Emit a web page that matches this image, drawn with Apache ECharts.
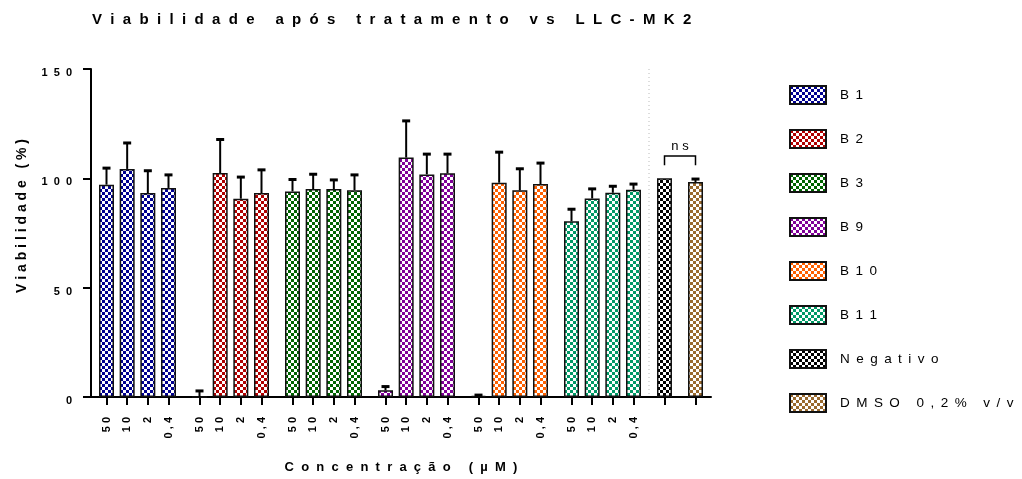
<!DOCTYPE html>
<html><head><meta charset="utf-8">
<script src="https://cdn.jsdelivr.net/npm/echarts@6/dist/echarts.min.js"></script>
<style>html,body{margin:0;padding:0;background:#fff}#c{width:1022px;height:479px}</style>
</head><body><div id="c"></div>
<script>
// ---------- data ----------
const concLabels = ['50', '10', '2', '0,4'];
const groupNames = ['B1', 'B2', 'B3', 'B9', 'B10', 'B11'];
const controlNames = ['Negativo', 'DMSO 0,2% v/v'];
const b1Mean = [97.1, 104.3, 93.3, 95.6];   const b1Sd = [7.8, 12.1, 10.4, 6.2];
const b2Mean = [0, 102.4, 90.7, 93.3];      const b2Sd = [3.0, 15.6, 10.1, 10.8];
const b3Mean = [94.0, 95.1, 95.1, 94.6];    const b3Sd = [5.7, 7.0, 4.4, 7.2];
const b9Mean = [3.1, 109.5, 101.8, 102.3];  const b9Sd = [1.9, 17.0, 9.5, 9.0];
const b10Mean = [0.5, 98.0, 94.5, 97.4];    const b10Sd = [0.6, 14.2, 10.1, 9.8];
const b11Mean = [80.4, 90.8, 93.4, 94.8];   const b11Sd = [5.7, 4.6, 3.2, 2.8];
const controlMean = [100, 98.3];
const controlSd = [0, 1.6];
const nsBracket = [110.2, 106, 114.5]; // bracket top, leg bottom, label level (in %)
const yMin = 0, yMax = 150, yStep = 50;

const groupColors = ['#000090', '#b00000', '#006400', '#800098', '#ff6000', '#009966'];
const controlColors = ['#000000', '#9a6a2e'];

// ---------- helpers ----------
function spaced(s, sep) {
  return s.split(' ').map(w => Array.from(w).join(sep)).join(sep + ' ' + sep);
}
function pattern(color) {
  const c = document.createElement('canvas');
  c.width = 6; c.height = 6;
  const g = c.getContext('2d');
  g.fillStyle = '#ffffff'; g.fillRect(0, 0, 6, 6);
  g.fillStyle = color; g.fillRect(0, 0, 3, 3); g.fillRect(3, 3, 3, 3);
  return { image: c, repeat: 'repeat' };
}
const FONT = 'Liberation Sans, Arial, sans-serif';

// ---------- layout of categories (slots) ----------
const groupMeans = [b1Mean, b2Mean, b3Mean, b9Mean, b10Mean, b11Mean];
const groupSds = [b1Sd, b2Sd, b3Sd, b9Sd, b10Sd, b11Sd];
const nSlots = 60;
const slotIds = [], slotLabels = [];
for (let i = 0; i < nSlots; i++) { slotIds.push('s' + i); slotLabels.push(''); }
const tickSet = new Set();
const groupSlots = groupNames.map((g, gi) => concLabels.map((c, ci) => 1 + 9 * gi + 2 * ci));
groupSlots.forEach(arr => arr.forEach((s, ci) => { slotLabels[s] = concLabels[ci]; tickSet.add(s); }));
const controlSlots = [55, 58];
controlSlots.forEach(s => tickSet.add(s));
const lastGroupSlot = groupSlots[groupSlots.length - 1][concLabels.length - 1];

const series = [];
const errData = [];
groupNames.forEach((name, gi) => {
  const d = new Array(nSlots).fill('-');
  groupSlots[gi].forEach((s, ci) => { d[s] = groupMeans[gi][ci]; errData.push([s, groupMeans[gi][ci], groupSds[gi][ci]]); });
  series.push({ name, type: 'bar', data: d, barWidth: 15, barGap: '-100%',
    itemStyle: { color: pattern(groupColors[gi]), borderColor: '#111', borderWidth: 1.5 } });
});
controlNames.forEach((name, k) => {
  const d = new Array(nSlots).fill('-');
  d[controlSlots[k]] = controlMean[k];
  errData.push([controlSlots[k], controlMean[k], controlSd[k]]);
  series.push({ name, type: 'bar', data: d, barWidth: 15, barGap: '-100%',
    itemStyle: { color: pattern(controlColors[k]), borderColor: '#111', borderWidth: 1.5 } });
});
series.push({
  type: 'custom', name: 'err', z: 5, data: errData,
  renderItem(params, api) {
    const x = api.value(0), m = api.value(1), s = api.value(2);
    if (!(s > 0)) return null;
    const p0 = api.coord([x, m]), p1 = api.coord([x, m + s]);
    return { type: 'group', children: [
      { type: 'line', shape: { x1: p0[0], y1: p0[1], x2: p1[0], y2: p1[1] }, style: { stroke: '#000', lineWidth: 2 } },
      { type: 'rect', shape: { x: p1[0] - 4, y: p1[1] - 1, width: 8, height: 3 }, style: { fill: '#000' } }
    ] };
  }
});
// dotted divider between the compounds and the controls
series.push({
  type: 'custom', name: 'divider', z: 1,
  data: [[lastGroupSlot, controlSlots[0]]],
  renderItem(params, api) {
    const a = api.coord([api.value(0), yMax]), b = api.coord([api.value(1), 0]);
    const x = (a[0] + b[0]) / 2;
    return { type: 'line', shape: { x1: x, y1: a[1], x2: x, y2: b[1] },
      style: { stroke: '#bbbbbb', lineWidth: 1, lineDash: [1, 3] } };
  }
});
series.push({
  type: 'custom', name: 'ns', z: 5,
  data: [[controlSlots[0], controlSlots[1], nsBracket[0], nsBracket[1], nsBracket[2]]],
  renderItem(params, api) {
    const a = api.value(0), b = api.value(1), top = api.value(2), leg = api.value(3), lab = api.value(4);
    const pa = api.coord([a, top]), pb = api.coord([b, top]);
    const pa2 = api.coord([a, leg]), pb2 = api.coord([b, leg]);
    const pl = api.coord([a, lab]);
    return { type: 'group', children: [
      { type: 'polyline', shape: { points: [pa2, pa, pb, pb2] }, style: { stroke: '#000', lineWidth: 1.5, fill: null } },
      { type: 'text', style: { text: 'n s', x: (pa[0] + pb[0]) / 2, y: pl[1], align: 'center', verticalAlign: 'middle',
        font: '13px ' + FONT, fill: '#000' } }
    ] };
  }
});

const chart = echarts.init(document.getElementById('c'), null, { renderer: 'canvas' });
chart.setOption({
  animation: false,
  backgroundColor: '#fff',
  textStyle: { fontFamily: FONT },
  title: { text: spaced('Viabilidade após tratamento vs LLC-MK2', '  '), left: 87, top: 7,
    textStyle: { fontSize: 15, fontWeight: 'bold', color: '#000', fontFamily: FONT } },
  legend: {
    data: groupNames.concat(controlNames), orient: 'vertical', left: 784, top: 80,
    itemWidth: 36, itemHeight: 18, itemGap: 24, icon: 'rect',
    formatter: n => spaced(n, ' \u2009'),
    textStyle: { fontSize: 13.5, color: '#000', fontFamily: FONT, padding: [0, 0, 0, 9] }
  },
  grid: { left: 91, right: 311, top: 69, bottom: 82, containLabel: false },
  xAxis: {
    type: 'category', data: slotIds, boundaryGap: true,
    name: spaced('Concentração (µM)', '  '), nameLocation: 'middle', nameGap: 64,
    nameTextStyle: { fontSize: 13, fontWeight: 'bold', color: '#000', fontFamily: FONT },
    axisLine: { lineStyle: { color: '#000', width: 2 } },
    axisTick: { show: true, alignWithLabel: true, interval: i => tickSet.has(i), length: 8, lineStyle: { color: '#000', width: 2 } },
    axisLabel: { interval: 0, rotate: 90, margin: 20, fontSize: 11, fontWeight: 'bold', color: '#000',
      formatter: (v, i) => spaced(slotLabels[i] || '', ' ') },
    splitLine: { show: false }
  },
  yAxis: {
    type: 'value', min: yMin, max: yMax, interval: yStep,
    name: spaced('Viabilidade (%)', ' '), nameLocation: 'middle', nameGap: 62,
    nameTextStyle: { fontSize: 14, fontWeight: 'bold', color: '#000', fontFamily: FONT, padding: [0, 0, 0, 34] },
    axisLine: { show: true, lineStyle: { color: '#000', width: 2 } },
    axisTick: { show: true, length: 8, lineStyle: { color: '#000', width: 2 } },
    axisLabel: { margin: 19, fontSize: 11, fontWeight: 'bold', color: '#000', verticalAlign: 'top', lineHeight: 8,
      formatter: v => spaced(String(v), '  ') },
    splitLine: { show: false }
  },
  series
});
</script>
</body></html>
